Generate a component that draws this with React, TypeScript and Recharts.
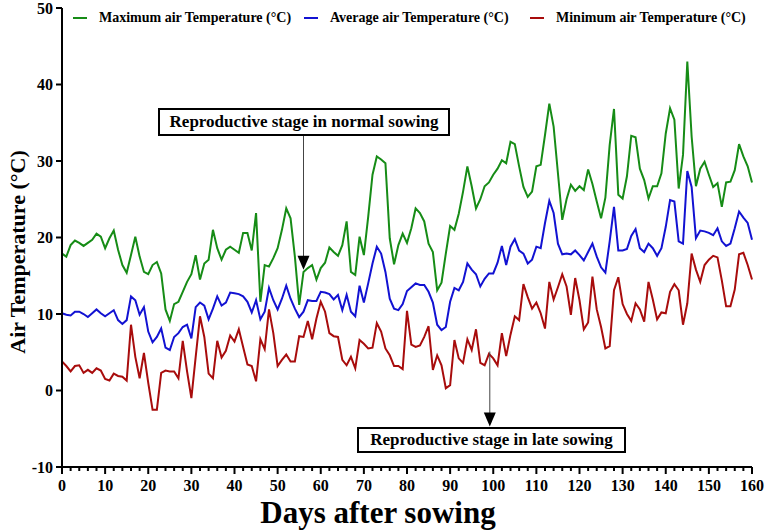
import React from "react"
import { LineChart, Line, XAxis, YAxis, ReferenceLine, ReferenceDot } from "recharts"

// daily values, day 0 .. 160
const maxTemp = [
  17.9, 17.5, 19.0, 19.6, 19.3, 18.9, 19.3, 19.7, 20.5, 20.1, 18.6, 19.9, 20.9, 18.4, 16.4, 15.4, 17.7, 20.1, 17.5, 15.5,
  15.2, 16.4, 16.8, 15.3, 10.6, 9.1, 11.3, 11.6, 12.9, 14.2, 15.2, 17.7, 14.5, 16.6, 17.1, 21.0, 18.6, 17.1, 18.4, 18.8,
  18.4, 18.0, 20.6, 20.6, 18.3, 23.2, 11.6, 16.4, 16.2, 17.3, 18.6, 21.0, 23.8, 22.5, 17.5, 11.2, 15.5, 16.0, 16.4, 14.5,
  16.0, 16.7, 18.7, 18.1, 17.6, 19.0, 22.1, 15.5, 15.1, 20.1, 17.7, 22.7, 28.2, 30.6, 30.2, 29.7, 19.9, 16.5, 19.0, 20.5,
  19.3, 21.2, 23.8, 23.2, 22.1, 19.2, 18.1, 13.1, 14.1, 17.9, 21.5, 21.0, 23.1, 26.0, 29.3, 26.7, 23.8, 25.0, 26.7, 27.2,
  28.2, 29.0, 30.1, 29.7, 32.5, 32.2, 29.3, 26.6, 25.3, 26.0, 29.3, 29.5, 33.4, 37.5, 34.5, 28.4, 22.3, 25.0, 26.9, 26.1,
  26.7, 26.2, 28.9, 27.0, 24.7, 22.5, 25.2, 32.1, 36.8, 25.6, 25.1, 28.0, 33.3, 33.1, 29.0, 27.5, 25.1, 26.7, 26.7, 28.4,
  33.6, 36.9, 35.4, 26.4, 30.8, 43.0, 33.2, 26.7, 29.0, 29.9, 28.2, 26.6, 27.1, 24.0, 27.2, 27.3, 28.8, 32.2, 30.6, 29.3,
  27.2,
]

const avgTemp = [
  10.1, 9.9, 9.8, 10.3, 10.3, 10.0, 9.6, 10.1, 10.6, 10.1, 9.7, 10.1, 10.5, 9.2, 8.7, 9.2, 12.3, 11.8, 9.9, 10.9,
  7.7, 6.3, 7.0, 8.1, 5.6, 5.3, 7.0, 7.5, 8.3, 8.6, 6.8, 10.9, 11.5, 11.1, 9.3, 10.7, 12.3, 11.1, 11.5, 12.8,
  12.7, 12.6, 12.3, 11.6, 10.2, 11.8, 9.3, 10.3, 13.4, 11.8, 10.6, 12.0, 13.7, 12.0, 10.7, 9.6, 10.3, 11.8, 11.7, 11.7,
  12.9, 12.8, 12.6, 11.9, 12.5, 10.5, 12.5, 10.3, 9.7, 13.7, 11.5, 14.0, 16.6, 18.8, 17.9, 15.5, 12.0, 10.7, 10.5, 11.3,
  13.0, 13.5, 14.0, 13.8, 13.8, 12.9, 11.5, 8.6, 7.9, 8.3, 11.6, 13.4, 13.1, 14.2, 16.6, 15.8, 15.2, 13.6, 14.6, 15.3,
  15.3, 16.7, 18.9, 16.4, 18.8, 19.8, 18.3, 17.9, 16.6, 17.1, 18.8, 18.6, 21.9, 24.8, 23.2, 19.2, 17.8, 17.9, 17.8, 18.3,
  17.7, 17.0, 18.1, 19.2, 17.5, 16.1, 15.4, 19.5, 24.0, 18.3, 18.3, 18.5, 20.2, 21.1, 18.6, 18.1, 19.2, 18.6, 17.6, 18.6,
  21.4, 24.9, 24.7, 19.5, 19.2, 28.7, 26.6, 19.9, 20.9, 20.8, 20.6, 20.3, 21.2, 19.5, 18.9, 19.2, 21.2, 23.4, 22.6, 21.9,
  19.7,
]

const minTemp = [
  3.8, 3.2, 2.5, 3.2, 3.3, 2.3, 2.7, 2.3, 2.9, 2.6, 1.5, 1.3, 2.2, 1.9, 1.8, 1.3, 8.6, 4.4, 1.6, 4.9,
  1.0, -2.5, -2.5, 2.3, 2.6, 2.5, 2.5, 1.6, 6.5, 2.5, -1.0, 4.4, 9.7, 7.0, 2.2, 1.6, 6.5, 4.3, 5.2, 7.2,
  6.4, 8.0, 5.7, 3.4, 3.2, 1.2, 6.7, 5.4, 10.6, 7.5, 3.2, 4.0, 4.7, 3.8, 3.8, 7.1, 7.0, 9.1, 6.7, 9.4,
  11.6, 10.3, 7.5, 7.1, 7.0, 4.0, 3.3, 4.4, 2.9, 6.6, 6.1, 5.5, 5.6, 8.8, 7.7, 5.5, 4.6, 3.2, 3.2, 2.8,
  10.4, 6.0, 5.7, 5.9, 7.0, 8.4, 2.7, 4.6, 3.3, 0.3, 0.7, 6.6, 4.2, 3.6, 6.7, 5.3, 8.0, 3.6, 3.3, 4.8,
  4.2, 3.3, 7.5, 4.5, 7.3, 9.7, 9.2, 13.9, 12.2, 10.7, 11.5, 10.1, 8.1, 14.2, 11.9, 13.5, 15.2, 13.6, 9.9, 14.7,
  11.8, 8.0, 8.9, 14.9, 10.6, 8.3, 5.5, 5.8, 13.1, 14.8, 11.3, 10.0, 9.1, 11.4, 10.6, 9.0, 14.2, 11.9, 9.3, 10.2,
  10.1, 12.9, 13.9, 13.1, 8.6, 11.4, 17.9, 15.8, 14.2, 16.4, 17.1, 17.6, 17.4, 14.4, 11.0, 11.0, 13.2, 17.8, 18.0, 16.4,
  14.5,
]

const yTicks = [-10, 0, 10, 20, 30, 40, 50]
const xMajorTicks = [0, 10, 20, 30, 40, 50, 60, 70, 80, 90, 100, 110, 120, 130, 140, 150, 160]

const data = maxTemp.map((v, i) => ({ day: i, max: v, avg: avgTemp[i], min: minTemp[i] }))
const xTicks = Array.from({ length: 81 }, (_, i) => i * 2)

const FONT = "'Liberation Serif', 'Times New Roman', serif"

function XTick(props: any) {
  const { x, y, payload } = props
  const major = xMajorTicks.includes(payload.value)
  return (
    <g>
      <line x1={x} x2={x} y1={y} y2={y + (major ? 7 : 4)} stroke="#000" strokeWidth={2} />
      {major && (
        <text x={x} y={y + 24} textAnchor="middle" fontFamily={FONT} fontWeight="bold" fontSize={16} fill="#000">
          {payload.value}
        </text>
      )}
    </g>
  )
}

const downArrow = (props: any) => {
  const { cx, cy } = props
  return <polygon points={`${cx - 6},${cy - 14} ${cx + 6},${cy - 14} ${cx},${cy}`} fill="#000" />
}

const legendItems = [
  { name: "Maximum air Temperature (°C)", color: "#168c16", left: 73 },
  { name: "Average air Temperature (°C)", color: "#1212d2", left: 304 },
  { name: "Minimum air Temperature (°C)", color: "#a80c0c", left: 530 },
]

export default function App() {
  return (
    <div style={{ position: "absolute", left: 0, top: 0, width: 767, height: 532, background: "#fff", fontFamily: FONT, overflow: "hidden" }}>
      <LineChart width={767} height={532} data={data} margin={{ top: 8, right: 15, left: 12, bottom: 35 }}>
        <XAxis
          dataKey="day"
          type="number"
          domain={[0, 160]}
          ticks={xTicks}
          interval={0}
          tick={<XTick />}
          tickLine={false}
          tickSize={0}
          tickMargin={0}
          height={30}
          axisLine={{ stroke: "#000", strokeWidth: 2 }}
        />
        <XAxis xAxisId="top" orientation="top" dataKey="day" type="number" domain={[0, 160]} height={0} tick={false} tickLine={false} axisLine={{ stroke: "#000", strokeWidth: 2 }} />
        <YAxis
          type="number"
          domain={[-10, 50]}
          ticks={yTicks}
          interval={0}
          width={50}
          tickSize={6}
          tickMargin={3}
          tickLine={{ stroke: "#000", strokeWidth: 2 }}
          axisLine={{ stroke: "#000", strokeWidth: 2 }}
          tick={{ fontFamily: FONT, fontWeight: "bold", fontSize: 16, fill: "#000" }}
        />
        <YAxis yAxisId="right" orientation="right" domain={[-10, 50]} width={0} tick={false} tickLine={false} axisLine={{ stroke: "#000", strokeWidth: 2 }} />
        <Line dataKey="max" stroke="#168c16" strokeWidth={2} dot={false} isAnimationActive={false} />
        <Line dataKey="avg" stroke="#1212d2" strokeWidth={2} dot={false} isAnimationActive={false} />
        <Line dataKey="min" stroke="#a80c0c" strokeWidth={2} dot={false} isAnimationActive={false} />
        <ReferenceLine segment={[{ x: 56, y: 33.4 }, { x: 56, y: 16.5 }]} stroke="#444" strokeWidth={1} />
        <ReferenceDot x={56} y={15.8} r={0} shape={downArrow} />
        <ReferenceLine segment={[{ x: 99.2, y: 5.1 }, { x: 99.2, y: -4 }]} stroke="#444" strokeWidth={1} />
        <ReferenceDot x={99.2} y={-4.7} r={0} shape={downArrow} />
      </LineChart>

      {legendItems.map((it) => (
        <div key={it.name} style={{ position: "absolute", left: it.left, top: 10, display: "flex", alignItems: "center", fontWeight: "bold", fontSize: 14, color: "#000", whiteSpace: "nowrap" }}>
          <span style={{ display: "inline-block", width: 14, height: 2, background: it.color, marginRight: 12 }} />
          {it.name}
        </div>
      ))}

      <div style={{ position: "absolute", left: 158, top: 108, width: 288, height: 24, border: "2px solid #000", background: "#fff", fontWeight: "bold", fontSize: 17, textAlign: "center", lineHeight: "24px", whiteSpace: "nowrap" }}>
        Reproductive stage in normal sowing
      </div>
      <div style={{ position: "absolute", left: 357, top: 427, width: 265, height: 22, border: "2px solid #000", background: "#fff", fontWeight: "bold", fontSize: 17, textAlign: "center", lineHeight: "22px", whiteSpace: "nowrap" }}>
        Reproductive stage in late sowing
      </div>

      <div style={{ position: "absolute", left: 178, width: 400, top: 495, textAlign: "center", fontWeight: "bold", fontSize: 31, lineHeight: "36px" }}>
        Days after sowing
      </div>
      <div style={{ position: "absolute", left: 18, top: 252, width: 0, height: 0 }}>
        <div style={{ position: "absolute", transform: "translate(-50%, -50%) rotate(-90deg)", fontWeight: "bold", fontSize: 22, whiteSpace: "nowrap" }}>
          Air Temperature (°C)
        </div>
      </div>
    </div>
  )
}
